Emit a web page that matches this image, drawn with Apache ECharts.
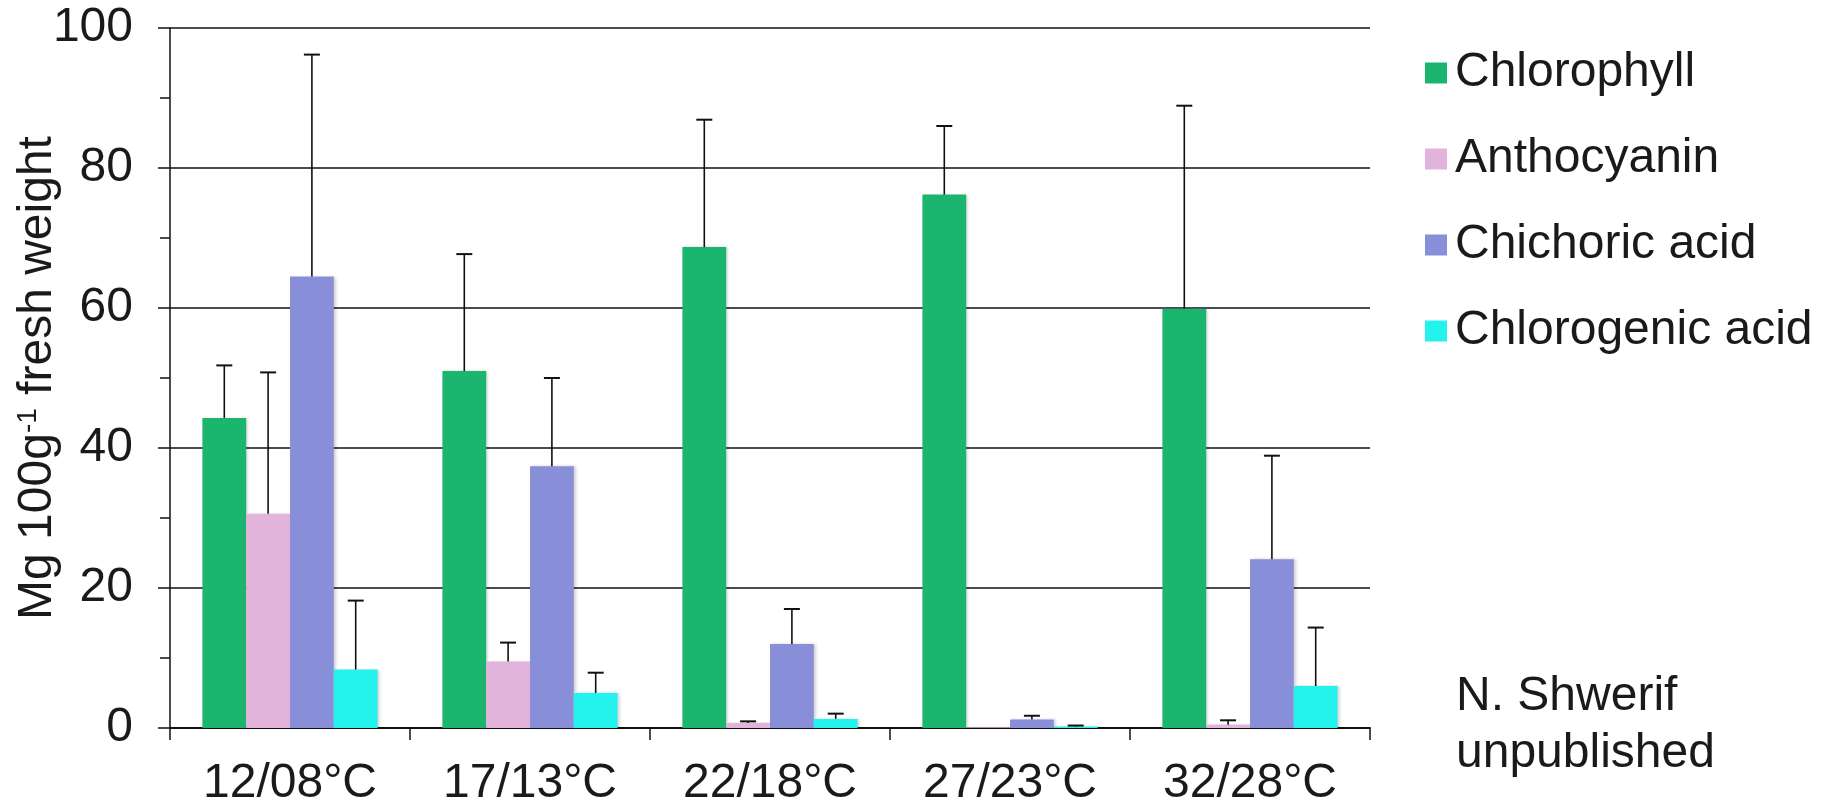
<!DOCTYPE html>
<html><head><meta charset="utf-8">
<script src="https://cdn.jsdelivr.net/npm/echarts@6/dist/echarts.min.js"></script>
<style>html,body{margin:0;padding:0;background:#fff}#c{width:1827px;height:804px}</style>
</head><body><div id="c"></div>
<script>
const categories = ['12/08°C', '17/13°C', '22/18°C', '27/23°C', '32/28°C'];
const seriesNames = ['Chlorophyll', 'Anthocyanin', 'Chichoric acid', 'Chlorogenic acid'];
const chlorophyll = [44.3, 51.0, 68.7, 76.2, 59.9];
const chlorophyllErr = [7.5, 16.7, 18.2, 9.8, 29.0];
const anthocyanin = [30.6, 9.5, 0.7, 0.1, 0.45];
const anthocyaninErr = [20.2, 2.7, 0.25, 0, 0.65];
const chichoric = [64.5, 37.4, 12.0, 1.2, 24.1];
const chichoricErr = [31.7, 12.6, 5.0, 0.55, 14.8];
const chlorogenic = [8.35, 5.0, 1.3, 0.2, 6.0];
const chlorogenicErr = [9.85, 2.9, 0.75, 0.15, 8.35];
const yTicks = [0, 20, 40, 60, 80, 100];

const colors = ['#1bb56f', '#e3b4db', '#898ed9', '#24f2ec'];
const values = [chlorophyll, anthocyanin, chichoric, chlorogenic];
const errors = [chlorophyllErr, anthocyaninErr, chichoricErr, chlorogenicErr];
const FONT = '"Liberation Sans", Arial, sans-serif';
const GAP = 0.27;

const chart = echarts.init(document.getElementById('c'), null, {renderer: 'canvas'});

const barSeries = seriesNames.map((name, k) => ({
  name, type: 'bar', data: values[k], barGap: '0%', barCategoryGap: (GAP * 100) + '%',
  itemStyle: {color: colors[k], shadowColor: 'rgba(0,0,0,0.18)', shadowBlur: 3, shadowOffsetX: 2},
  z: 2
}));

const errSeries = seriesNames.map((name, k) => ({
  name: 'err-' + name, type: 'custom', z: 5, silent: true,
  data: categories.map((c, i) => [i, values[k][i], errors[k][i]]),
  renderItem: function (params, api) {
    const i = api.value(0), v = api.value(1), e = api.value(2);
    if (!(e > 0)) return null;
    const base = api.coord([i, v]);
    const top = api.coord([i, v + e]);
    const band = api.size([1, 0])[0];
    const bw = band * (1 - GAP) / 4;
    const x = base[0] + (k - 1.5) * bw;
    const st = {stroke: '#111', lineWidth: 1.6};
    return {type: 'group', children: [
      {type: 'line', shape: {x1: x, y1: base[1], x2: x, y2: top[1]}, style: st},
      {type: 'line', shape: {x1: x - 8, y1: top[1], x2: x + 8, y2: top[1]}, style: {stroke: '#111', lineWidth: 2}}
    ]};
  }
}));

chart.setOption({
  animation: false,
  textStyle: {fontFamily: FONT, color: '#1a1a1a'},
  grid: {left: 170, right: 457, top: 28, bottom: 76, containLabel: false, outerBoundsMode: 'none'},
  legend: {
    data: seriesNames, orient: 'vertical', left: 1425, top: 48, padding: 0,
    itemWidth: 22, itemHeight: 21, itemGap: 36, icon: 'rect',
    textStyle: {fontFamily: FONT, fontSize: 48, color: '#1a1a1a', lineHeight: 50, padding: [0, 0, 0, 3]},
    selectedMode: false
  },
  xAxis: {
    type: 'category', data: categories,
    axisLine: {lineStyle: {color: '#111', width: 2}},
    axisTick: {show: true, length: 12, lineStyle: {color: '#111', width: 1.5}},
    axisLabel: {fontFamily: FONT, fontSize: 48, color: '#1a1a1a', margin: 32}
  },
  yAxis: {
    type: 'value', min: yTicks[0], max: yTicks[yTicks.length - 1], interval: 20,
    name: '{a|Mg 100g}{s|-1}{a| fresh weight}',
    nameLocation: 'middle', nameRotate: 90, nameGap: 108, nameMoveOverlap: false,
    nameTextStyle: {rich: {
      a: {fontFamily: FONT, fontSize: 48, color: '#1a1a1a'},
      s: {fontFamily: FONT, fontSize: 28, color: '#1a1a1a', padding: [0, 0, 20, 0]}
    }},
    axisLine: {show: true, lineStyle: {color: '#111', width: 1.5}},
    axisTick: {show: true, length: 12, lineStyle: {color: '#111', width: 1.5}},
    minorTick: {show: true, splitNumber: 2, length: 10, lineStyle: {color: '#111', width: 1.5}},
    splitLine: {show: true, lineStyle: {color: '#111', width: 1.5}},
    axisLabel: {fontFamily: FONT, fontSize: 48, color: '#1a1a1a', margin: 37}
  },
  graphic: [{
    type: 'text', left: 1456, top: 668,
    style: {text: 'N. Shwerif\nunpublished', font: '48px ' + FONT, fill: '#1a1a1a', lineHeight: 57}
  }],
  series: barSeries.concat(errSeries)
});
</script></body></html>
